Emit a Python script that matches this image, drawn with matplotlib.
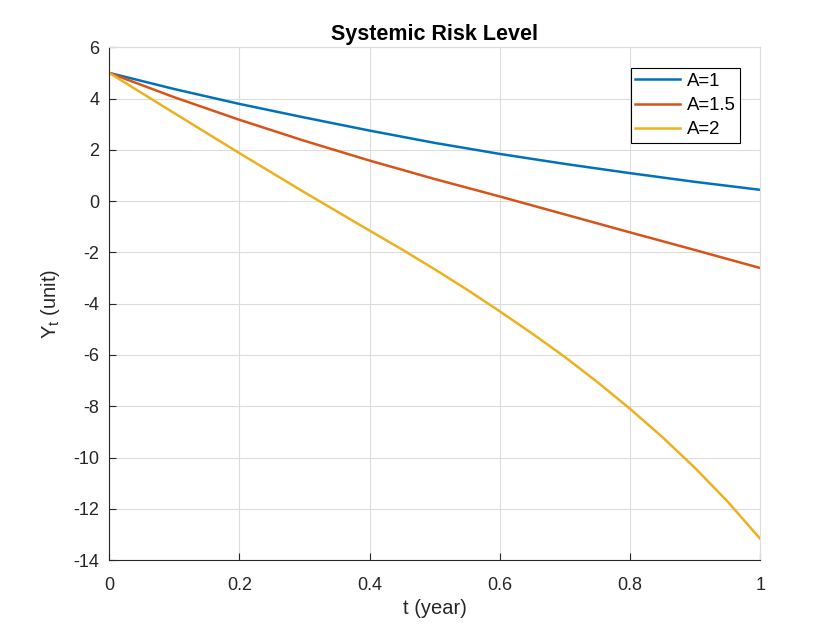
import numpy as np
import matplotlib.pyplot as plt

plt.rcParams['font.family'] = ['Liberation Sans', 'DejaVu Sans']
plt.rcParams['mathtext.fontset'] = 'custom'
plt.rcParams['mathtext.rm'] = 'Liberation Sans'
plt.rcParams['mathtext.it'] = 'Liberation Sans'
plt.rcParams['axes.unicode_minus'] = False

# values
t = [0.0, 0.1, 0.2, 0.3, 0.4, 0.5, 0.6, 0.7, 0.8, 0.9, 1.0]
y_a1 = [5.0, 4.37, 3.79, 3.26, 2.75, 2.27, 1.84, 1.45, 1.09, 0.75, 0.44]
y_a15 = [5.0, 4.05, 3.17, 2.35, 1.58, 0.86, 0.18, -0.52, -1.22, -1.91, -2.61]
t_a2 = [0.0, 0.1, 0.2, 0.3, 0.4, 0.45, 0.5, 0.55, 0.6, 0.65, 0.7, 0.75, 0.8, 0.85, 0.9, 0.95, 1.0]
y_a2 = [5.0, 3.43, 1.87, 0.34, -1.15, -1.89, -2.66, -3.46, -4.30, -5.17, -6.08, -7.06, -8.10,
        -9.21, -10.41, -11.72, -13.17]
labels = ['A=1', 'A=1.5', 'A=2']
colors = ['#0072BD', '#D95319', '#EDB120']

fig = plt.figure(figsize=(8.4, 6.3), dpi=100)
ax = fig.add_axes([0.13, 0.111, 0.775, 0.814])

for xs, ys, lab, c in zip([t, t, t_a2], [y_a1, y_a15, y_a2], labels, colors):
    ax.plot(xs, ys, color=c, linewidth=1.8, label=lab)

ax.set_xlim(0, 1)
ax.set_ylim(-14, 6)
ax.set_xticks([0, 0.2, 0.4, 0.6, 0.8, 1])
ax.set_xticklabels(['0', '0.2', '0.4', '0.6', '0.8', '1'])
ax.set_yticks(np.arange(-14, 7, 2))

ax.grid(True, color='#dcdcdc', linewidth=0.8)
ax.set_axisbelow(True)
for s in ['top', 'right']:
    ax.spines[s].set_color('#dcdcdc')
for s in ['left', 'bottom']:
    ax.spines[s].set_color('#262626')
ax.tick_params(direction='in', length=5, width=0.8, colors='#262626', labelsize=13)
ax.tick_params(axis='x', pad=12)
ax.tick_params(axis='y', pad=7)

ax.set_title('Systemic Risk Level', fontsize=15.5, fontweight='bold', pad=5)
ax.set_xlabel('t (year)', fontsize=14.5, color='#262626', labelpad=4)
ax.set_ylabel(r'Y$_{\rm t}$ (unit)', fontsize=14.5, color='#262626', labelpad=8)

leg = ax.legend(loc='upper right', bbox_to_anchor=(0.969, 0.959), fontsize=13.4, fancybox=False,
                framealpha=1, edgecolor='black', borderpad=0.25, handlelength=2.4,
                labelspacing=0.38, handletextpad=0.35, borderaxespad=0)
leg.get_frame().set_linewidth(0.8)

fig.savefig('out.png', dpi=100)
